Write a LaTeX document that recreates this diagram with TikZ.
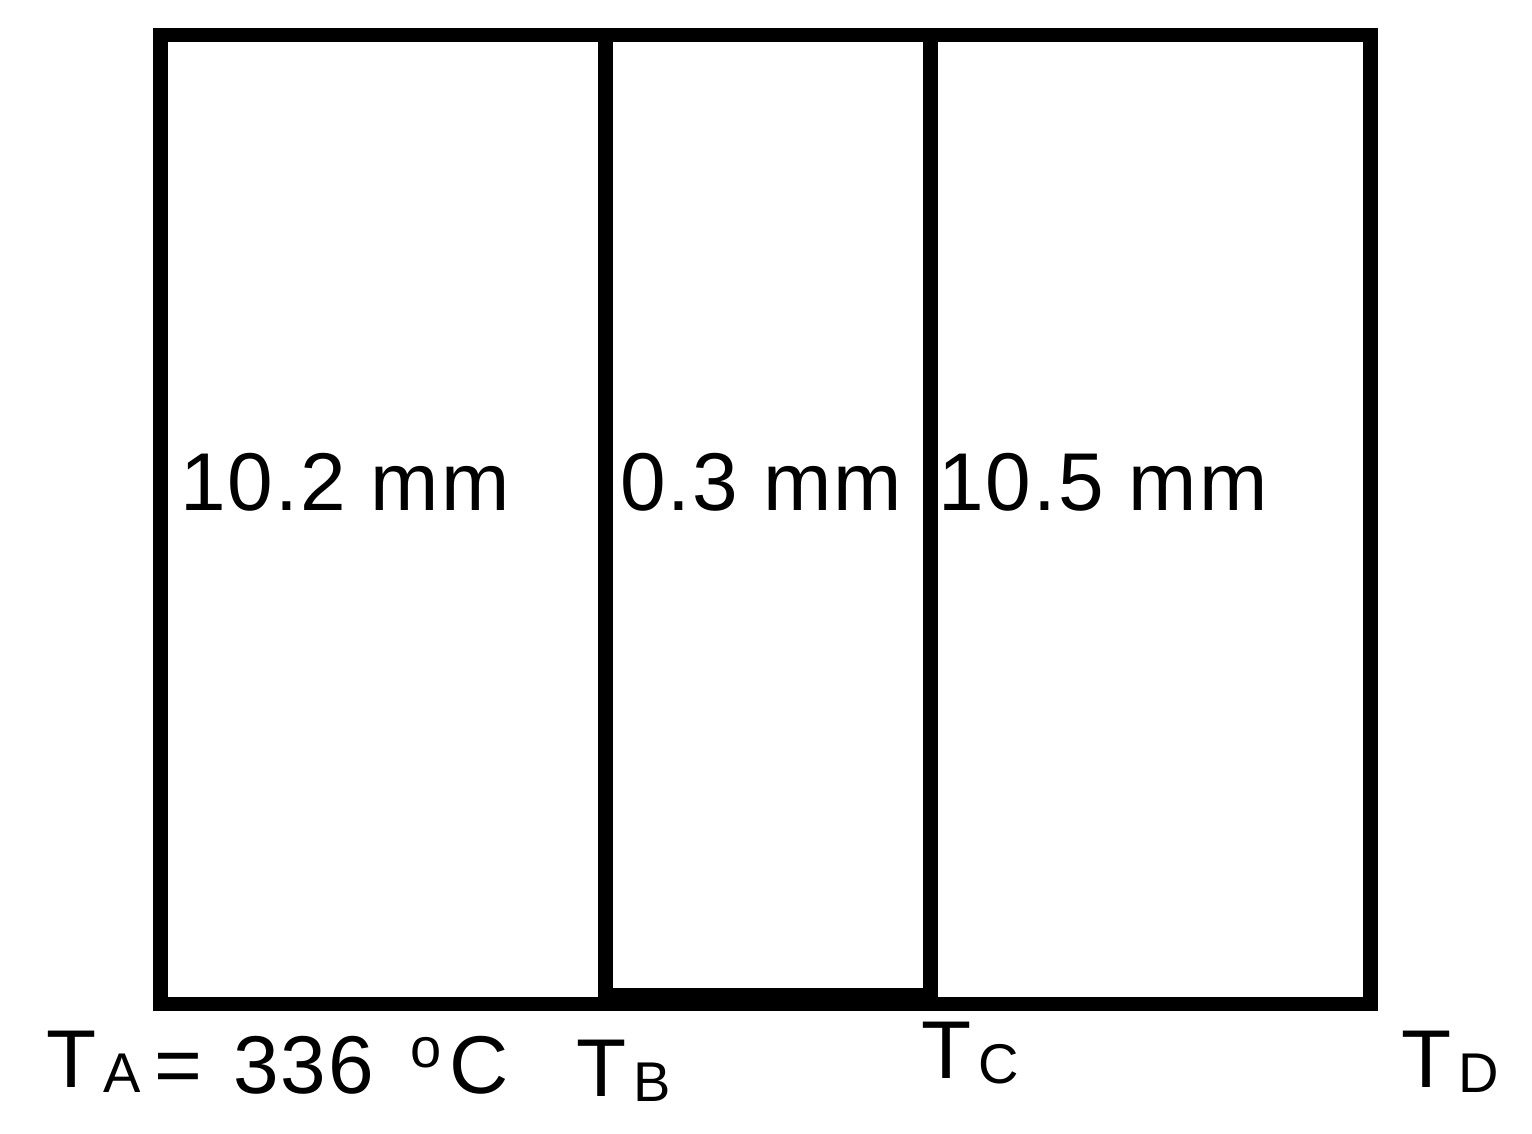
\documentclass[tikz,border=0pt]{standalone}
\usepackage{fontspec}
\setmainfont{Liberation Sans}
\newfontfamily\widefont[LetterSpace=2.5]{Liberation Sans}
\newcommand\subtxt[1]{\hspace{3.5pt}\raisebox{-2.5pt}{\fontsize{28}{30}\selectfont #1}}
\begin{document}
\begin{tikzpicture}[x=0.5pt,y=-0.5pt,
  box/.style={draw=black,line width=7.25pt,line join=miter},
  big/.style={font=\fontsize{41}{45}\selectfont,inner sep=0pt,anchor=base west},
  wide/.style={font=\widefont\fontsize{41}{45}\selectfont,inner sep=0pt,anchor=base west}]
\useasboundingbox (0,0) rectangle (1532,1134);
\draw[box] (160.5,35) rectangle (1370.5,1004);
\draw[box] (605.5,35) rectangle (930.5,995);
\node[wide] (w1) at (180,510) {10.2 mm};
\node[wide] (w2) at (620,510) {0.3 mm};
\node[wide] (w3) at (938,510) {10.5 mm};
\node[big] (ta) at (46,1087) {T\subtxt{A}};
\node[big] (tav) at (154,1093) {=\hspace{15.5pt}{\widefont 336}\hspace{18pt}\raisebox{13pt}{\fontsize{28}{30}\selectfont o}\hspace{4pt}C};
\node[big] (tb) at (576,1096) {T\subtxt{B}};
\node[big] (tc) at (921,1078) {T\subtxt{C}};
\node[big] (td) at (1401,1087) {T\subtxt{D}};
\end{tikzpicture}
\end{document}
